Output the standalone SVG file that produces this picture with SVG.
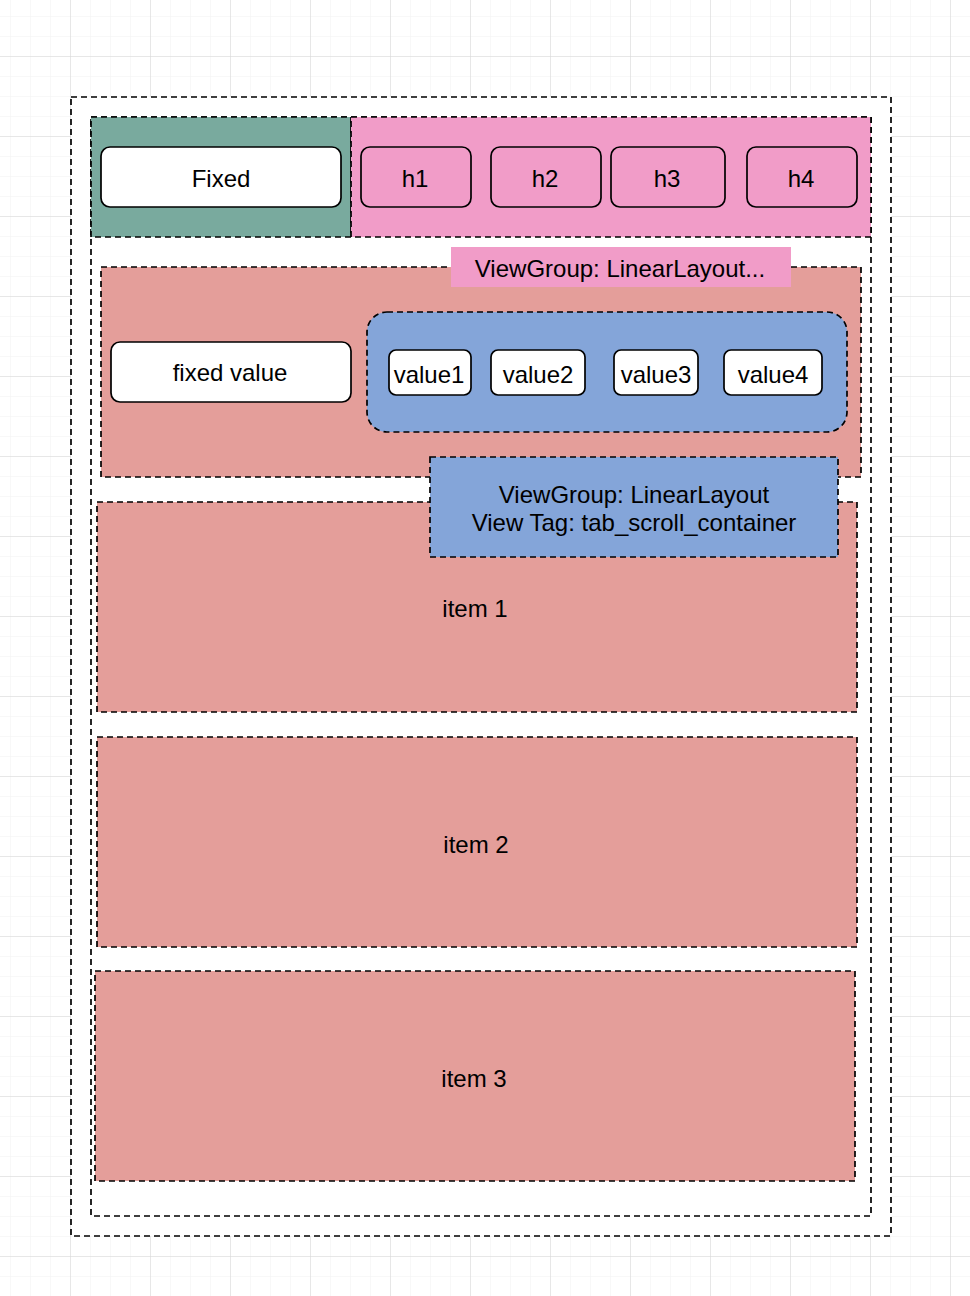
<svg xmlns="http://www.w3.org/2000/svg" width="970" height="1296" viewBox="0 0 970 1296">
<defs>
<pattern id="minor" x="10" y="16" width="20" height="20" patternUnits="userSpaceOnUse">
<path d="M0 0H20M0 0V20" fill="none" stroke="#f1f1f1" stroke-width="1"/>
</pattern>
<pattern id="major" x="70" y="56" width="80" height="80" patternUnits="userSpaceOnUse">
<path d="M0 0H80M0 0V80" fill="none" stroke="#d6d6d6" stroke-width="1"/>
</pattern>
</defs>
<style>
.dash{stroke:#000;stroke-width:1.7;stroke-dasharray:6 4}
.box{fill:#fff;stroke:#000;stroke-width:1.7}
.hbox{fill:#F19CC8;stroke:#000;stroke-width:1.7}
text{font-family:"Liberation Sans",Arial,sans-serif;font-size:24px;fill:#000;text-anchor:middle;dominant-baseline:central}
</style>
<rect width="970" height="1296" fill="#fff"/>
<rect width="970" height="1296" fill="url(#minor)"/>
<rect width="970" height="1296" fill="url(#major)"/>

<g id="outer"><rect x="71" y="97" width="820" height="1139" fill="#fff" class="dash"/></g>
<g id="inner"><rect x="91" y="117" width="780" height="1099" fill="#fff" class="dash"/></g>

<g id="fixed-header"><rect x="91" y="117" width="260" height="120" fill="#79AA9E" class="dash"/></g>
<g id="tab-header"><rect x="351" y="117" width="520" height="120" fill="#F19CC8" class="dash"/></g>
<g id="fixed"><rect x="101" y="147" width="240" height="60" rx="9" class="box"/><text x="221" y="178">Fixed</text></g>
<g id="h1"><rect x="361" y="147" width="110" height="60" rx="9" class="hbox"/><text x="415" y="178">h1</text></g>
<g id="h2"><rect x="491" y="147" width="110" height="60" rx="9" class="hbox"/><text x="545" y="178">h2</text></g>
<g id="h3"><rect x="611" y="147" width="114" height="60" rx="9" class="hbox"/><text x="667" y="178">h3</text></g>
<g id="h4"><rect x="747" y="147" width="110" height="60" rx="9" class="hbox"/><text x="801" y="178">h4</text></g>

<g id="row"><rect x="101" y="267" width="760" height="210" fill="#E49E9A" class="dash"/></g>
<g id="label-top"><rect x="451" y="247" width="340" height="40" fill="#F19CC8"/><text x="620" y="268">ViewGroup: LinearLayout...</text></g>
<g id="fixed-value"><rect x="111" y="342" width="240" height="60" rx="9" class="box"/><text x="230" y="372">fixed value</text></g>
<g id="scroll-container"><rect x="367" y="312" width="480" height="120" rx="20" fill="#84A5D9" class="dash"/></g>
<g id="value1"><rect x="389" y="350" width="82" height="45" rx="7" class="box"/><text x="429" y="374">value1</text></g>
<g id="value2"><rect x="491" y="350" width="94" height="45" rx="7" class="box"/><text x="538" y="374">value2</text></g>
<g id="value3"><rect x="614" y="350" width="84" height="45" rx="7" class="box"/><text x="656" y="374">value3</text></g>
<g id="value4"><rect x="724" y="350" width="98" height="45" rx="7" class="box"/><text x="773" y="374">value4</text></g>

<g id="item1"><rect x="97" y="502" width="760" height="210" fill="#E49E9A" class="dash"/><text x="475" y="608">item 1</text></g>
<g id="label-blue"><rect x="430" y="457" width="408" height="100" fill="#84A5D9" class="dash"/><text x="634" y="494">ViewGroup: LinearLayout</text><text x="634" y="522">View Tag: tab_scroll_container</text></g>
<g id="item2"><rect x="97" y="737" width="760" height="210" fill="#E49E9A" class="dash"/><text x="476" y="844">item 2</text></g>
<g id="item3"><rect x="95" y="971" width="760" height="210" fill="#E49E9A" class="dash"/><text x="474" y="1078">item 3</text></g>
<g id="connectors"></g>
</svg>
